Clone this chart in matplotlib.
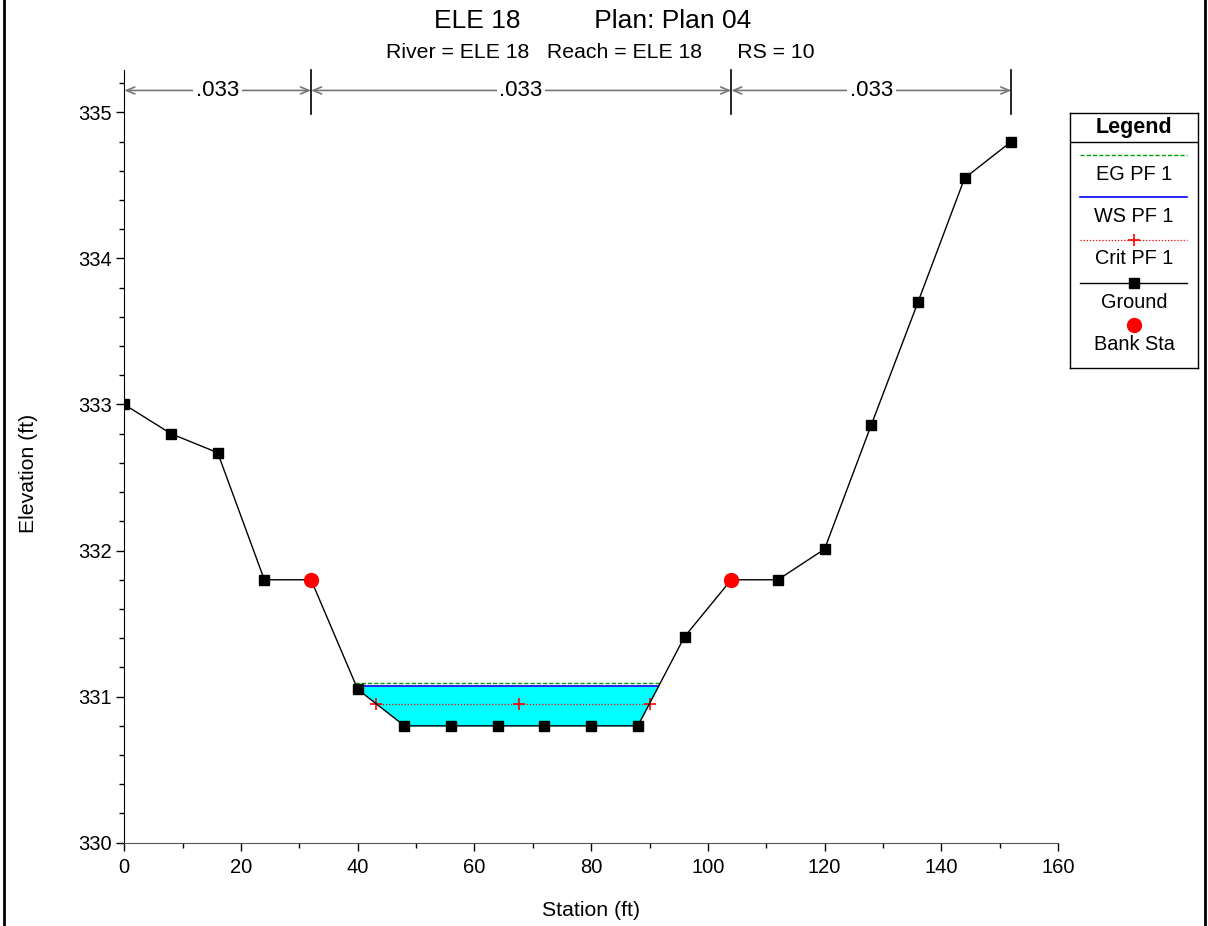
import matplotlib
matplotlib.use("Agg")
import matplotlib.pyplot as plt
from matplotlib.lines import Line2D
from matplotlib.ticker import MultipleLocator
import numpy as np

plt.rcParams['font.family'] = ['Liberation Sans', 'DejaVu Sans']

# ---- data ----
station = [0, 8, 16, 24, 32, 40, 48, 56, 64, 72, 80, 88, 96, 104, 112, 120, 128, 136, 144, 152]
ground = [333.0, 332.8, 332.67, 331.8, 331.8, 331.05, 330.8, 330.8, 330.8, 330.8, 330.8, 330.8,
          331.41, 331.8, 331.8, 332.01, 332.86, 333.70, 334.55, 334.8]
bank_sta = [32, 104]
bank_elev = [331.8, 331.8]
ws_elev = 331.07
eg_elev = 331.09
crit_elev = 330.95
crit_x = [43.2, 67.6, 90.0]
n_breaks = [0, 32, 104, 152]
n_values = [".033", ".033", ".033"]
title = "ELE 18          Plan: Plan 04"
subtitle = "River = ELE 18   Reach = ELE 18      RS = 10"
legend_labels = ["EG PF 1", "WS PF 1", "Crit PF 1", "Ground", "Bank Sta"]

W, H = 1208, 926
fig = plt.figure(figsize=(W / 100, H / 100), dpi=100)

ax_l, ax_r, ax_b, ax_t = 124.3, 1058, 842.7, 70
ax = fig.add_axes([ax_l / W, (H - ax_b) / H, (ax_r - ax_l) / W, (ax_b - ax_t) / H])
ax.set_xlim(0, 160)
ax.set_ylim(330, 335.29)


def intersect(xs, ys, level):
    pts = []
    for i in range(len(xs) - 1):
        y0, y1 = ys[i] - level, ys[i + 1] - level
        if y0 * y1 < 0:
            t = y0 / (y0 - y1)
            pts.append(xs[i] + t * (xs[i + 1] - xs[i]))
    return pts

# water fill between ground and WS
xs_w = intersect(station, ground, ws_elev)
xl, xr = xs_w[0], xs_w[-1]
fx = [xl] + [s for s in station if xl < s < xr] + [xr]
fg = np.interp(fx, station, ground)
ax.fill_between(fx, fg, ws_elev, color='#00ffff', lw=0, zorder=1)
ax.plot([xl, xr], [ws_elev, ws_elev], color='#0000ff', lw=1.2, zorder=3)
xs_e = intersect(station, ground, eg_elev)
ax.plot([xs_e[0], xs_e[-1]], [eg_elev, eg_elev], color='#00a000', lw=1.0, ls=(0, (3, 1.5)), zorder=3)
xs_c = intersect(station, ground, crit_elev)
ax.plot([xs_c[0], xs_c[-1]], [crit_elev] * 2, color='#ff0000', lw=0.9, ls=(0, (1, 1.5)), zorder=3)
ax.plot(crit_x, [crit_elev] * len(crit_x), ls='none', marker='+', color='#ff0000', ms=8, mew=1.2, zorder=4)

ax.plot(station, ground, color='black', lw=1.0, marker='s', ms=6.5, mfc='black', mec='black', zorder=5)
ax.plot(bank_sta, bank_elev, ls='none', marker='o', ms=10, color='#ff0000', zorder=6)

# spines / ticks
for s in ['top', 'right']:
    ax.spines[s].set_visible(False)
ax.spines['bottom'].set_color('#555555')
ax.spines['left'].set_color('black')
ax.spines['bottom'].set_bounds(0, 160)
ax.set_yticks([330, 331, 332, 333, 334, 335])
ax.yaxis.set_minor_locator(MultipleLocator(0.2))
ax.xaxis.set_major_locator(MultipleLocator(20))
ax.xaxis.set_minor_locator(MultipleLocator(10))
ax.tick_params(which='major', length=6, width=1, labelsize=14.5, direction='out', pad=3)
ax.tick_params(axis='x', which='major', pad=5)
ax.tick_params(which='minor', length=3.5, width=1, direction='out')
ax.set_xlabel("Station (ft)", fontsize=15.3)
ax.set_ylabel("Elevation (ft)", fontsize=15.3)
ax.xaxis.set_label_coords(0.5, -0.076)
ax.yaxis.set_label_coords(-0.092, 0.478)

# Manning's n bars on top
y_bar0, y_bar1, y_arrow = 335.0, 335.29, 335.15
for b in n_breaks[1:]:
    ax.plot([b, b], [y_bar0 - 0.01, y_bar1], color='black', lw=1.2, clip_on=False, zorder=6)
for i in range(len(n_values)):
    a, b = n_breaks[i], n_breaks[i + 1]
    ax.annotate('', xy=(a, y_arrow), xytext=(b, y_arrow),
                arrowprops=dict(arrowstyle='<->,head_length=0.6,head_width=0.25', color='#777777',
                                lw=1.2, shrinkA=0, shrinkB=0), annotation_clip=False)
    ax.text((a + b) / 2, y_arrow, n_values[i], ha='center', va='center', fontsize=16,
            bbox=dict(facecolor='white', edgecolor='none', pad=2), zorder=7)

# titles
fig.text(593 / W, 1 - 21 / H, title, ha='center', va='center', fontsize=19)
fig.text(600 / W, 1 - 53 / H, subtitle, ha='center', va='center', fontsize=15.3)

# legend box
lx0, ly0, lx1, ly1 = 1070, 113, 1198, 368
lg = fig.add_axes([lx0 / W, (H - ly1) / H, (lx1 - lx0) / W, (ly1 - ly0) / H])
lg.set_xlim(0, lx1 - lx0)
lg.set_ylim(ly1 - ly0, 0)
lg.set_xticks([])
lg.set_yticks([])
for s in lg.spines.values():
    s.set_linewidth(1.0)
cx = (lx1 - lx0) / 2
lg.text(cx, 14, "Legend", ha='center', va='center', fontsize=15.5, fontweight='bold')
lg.plot([0, lx1 - lx0], [29, 29], color='black', lw=1.0)
x0, x1 = 10, 117
lg.plot([x0, x1], [42, 42], color='#00a000', lw=1.0, ls=(0, (3, 1.5)))
lg.text(cx, 62, legend_labels[0], ha='center', va='center', fontsize=14.3)
lg.plot([x0, x1], [84, 84], color='#0000ff', lw=1.2)
lg.text(cx, 104, legend_labels[1], ha='center', va='center', fontsize=14.3)
lg.plot([x0, x1], [127, 127], color='#ff0000', lw=0.9, ls=(0, (1, 1.5)))
lg.plot([cx], [127], marker='+', color='#ff0000', ms=8, mew=1.2)
lg.text(cx, 146, legend_labels[2], ha='center', va='center', fontsize=14.3)
lg.plot([x0, x1], [170, 170], color='black', lw=1.0)
lg.plot([cx], [170], marker='s', color='black', ms=6.5)
lg.text(cx, 190, legend_labels[3], ha='center', va='center', fontsize=14.3)
lg.plot([cx], [212], marker='o', color='#ff0000', ms=10)
lg.text(cx, 231, legend_labels[4], ha='center', va='center', fontsize=14.3)

# figure side borders
fig.add_artist(Line2D([4 / W, 4 / W], [0, 1], color='black', lw=2, transform=fig.transFigure))
fig.add_artist(Line2D([1205 / W, 1205 / W], [0, 1], color='black', lw=2, transform=fig.transFigure))

fig.savefig("out.png", dpi=100)
